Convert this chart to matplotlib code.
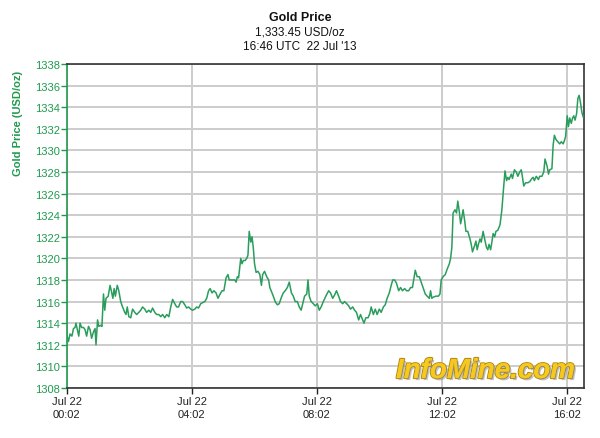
import matplotlib
matplotlib.use("Agg")
import matplotlib.pyplot as plt
import matplotlib.patheffects as pe

# hours after Jul 22 00:02 UTC
hours = [
    0.00, 0.06, 0.11, 0.17, 0.22, 0.27, 0.30, 0.35, 0.39, 0.43, 0.48, 0.54, 0.59, 0.64,
    0.70, 0.75, 0.80, 0.86, 0.91, 0.94, 0.99, 1.03, 1.09, 1.13, 1.18, 1.22, 1.26, 1.33,
    1.39, 1.43, 1.48, 1.52, 1.56, 1.62, 1.67, 1.73, 1.79, 1.86, 1.90, 1.94, 1.99, 2.05,
    2.11, 2.18, 2.24, 2.31, 2.37, 2.43, 2.50, 2.56, 2.63, 2.69, 2.75, 2.82, 2.88, 2.95,
    3.01, 3.07, 3.14, 3.20, 3.27, 3.33, 3.39, 3.46, 3.52, 3.58, 3.65, 3.71, 3.78, 3.84,
    3.90, 3.97, 4.03, 4.10, 4.16, 4.22, 4.29, 4.35, 4.42, 4.48, 4.54, 4.59, 4.65, 4.71,
    4.78, 4.84, 4.91, 4.97, 5.03, 5.10, 5.16, 5.20, 5.29, 5.38, 5.42, 5.46, 5.50,
    5.57, 5.61, 5.65, 5.71, 5.76, 5.80, 5.84, 5.89, 5.93, 5.97, 6.01, 6.06, 6.12, 6.18,
    6.23, 6.27, 6.33, 6.40, 6.46, 6.50, 6.57, 6.61, 6.67, 6.74, 6.80, 6.87, 6.93, 6.99,
    7.06, 7.12, 7.19, 7.25, 7.31, 7.38, 7.44, 7.50, 7.55, 7.61, 7.68, 7.72, 7.76, 7.82,
    7.89, 7.95, 8.02, 8.08, 8.14, 8.21, 8.29, 8.38, 8.44, 8.51, 8.57, 8.63, 8.70, 8.76,
    8.83, 8.89, 8.96, 9.02, 9.08, 9.15, 9.21, 9.27, 9.34, 9.40, 9.47, 9.51, 9.57, 9.64,
    9.70, 9.74, 9.81, 9.87, 9.93, 10.00, 10.06, 10.13, 10.19, 10.25, 10.32, 10.38, 10.43,
    10.49, 10.55, 10.62, 10.68, 10.74, 10.81, 10.87, 10.94, 11.00, 11.06,
    11.15, 11.21, 11.28, 11.34, 11.40, 11.47, 11.53, 11.60, 11.64, 11.68, 11.72, 11.81,
    11.89, 11.94, 11.98, 12.04, 12.11, 12.17, 12.24, 12.28, 12.32, 12.36, 12.42, 12.47,
    12.51, 12.56, 12.60, 12.64, 12.68, 12.73, 12.77, 12.83, 12.90, 12.94, 12.98, 13.05,
    13.09, 13.13, 13.17, 13.22, 13.26, 13.32, 13.39, 13.43, 13.47, 13.51, 13.56, 13.60,
    13.64, 13.69, 13.73, 13.79, 13.86, 13.92, 13.96, 14.02, 14.07, 14.11, 14.15, 14.22,
    14.26, 14.32, 14.38, 14.43, 14.49, 14.54, 14.58, 14.62, 14.68, 14.75, 14.81, 14.88,
    14.92, 14.96, 15.02, 15.09, 15.13, 15.20, 15.26, 15.30, 15.37, 15.41, 15.45, 15.52,
    15.56, 15.60, 15.65, 15.71, 15.77, 15.82, 15.88, 15.92, 15.96, 16.01, 16.05, 16.09,
    16.14, 16.18, 16.22, 16.26, 16.31, 16.35, 16.39, 16.43, 16.48, 16.52,
]

prices = [
    1313.0, 1312.3, 1313.0, 1312.8, 1313.5, 1313.6, 1314.0, 1313.3, 1312.8, 1314.0, 1313.6, 1313.6, 1313.4, 1312.8,
    1313.7, 1313.4, 1312.6, 1313.2, 1313.5, 1312.0, 1314.3, 1313.7, 1313.8, 1313.7, 1316.7, 1315.2, 1316.3, 1316.5,
    1317.5, 1317.0, 1316.3, 1317.2, 1316.5, 1317.5, 1317.0, 1316.0, 1315.5, 1315.0, 1314.8, 1315.5, 1314.6, 1314.5,
    1315.3, 1315.0, 1314.8, 1315.0, 1315.2, 1315.5, 1315.3, 1315.0, 1315.2, 1315.0, 1315.4, 1315.0, 1314.8, 1314.8,
    1314.6, 1314.8, 1314.5, 1314.8, 1314.6, 1315.5, 1316.2, 1315.8, 1315.5, 1315.5, 1316.0, 1316.0, 1315.7, 1315.4,
    1315.5, 1315.3, 1315.2, 1315.3, 1315.5, 1315.4, 1315.8, 1315.9, 1316.0, 1316.3, 1317.0, 1317.2, 1316.8, 1317.0,
    1316.8, 1316.3, 1316.7, 1317.0, 1317.0, 1318.2, 1318.5, 1318.0, 1318.0, 1318.0, 1317.8, 1318.3, 1318.2,
    1320.0, 1319.5, 1319.8, 1319.8, 1320.0, 1320.3, 1322.5, 1321.5, 1322.0, 1321.0, 1319.5, 1318.7, 1318.8, 1318.5,
    1317.5, 1318.5, 1318.8, 1318.3, 1318.0, 1317.3, 1316.8, 1316.5, 1316.0, 1315.7, 1315.8, 1316.4, 1316.8, 1317.0,
    1317.3, 1317.8, 1316.8, 1316.5, 1316.0, 1316.0, 1315.5, 1315.2, 1315.8, 1316.5, 1316.7, 1318.0, 1316.5, 1316.0,
    1315.8, 1315.6, 1315.8, 1315.2, 1315.5, 1316.0, 1316.5, 1317.0, 1316.8, 1316.3, 1316.6, 1317.0, 1316.5, 1316.0,
    1315.8, 1316.0, 1315.8, 1315.6, 1315.3, 1315.5, 1315.2, 1315.0, 1314.3, 1314.8, 1314.3, 1314.0, 1314.5, 1314.5,
    1314.9, 1315.5, 1314.8, 1315.3, 1314.8, 1315.3, 1315.0, 1315.5, 1315.7, 1316.3, 1316.8, 1317.5, 1318.0,
    1318.0, 1317.7, 1317.0, 1317.3, 1317.0, 1317.2, 1317.0, 1317.0, 1317.3, 1317.3,
    1318.9, 1318.3, 1318.3, 1317.8, 1317.3, 1316.7, 1316.5, 1316.3, 1317.0, 1316.3, 1316.4, 1316.5,
    1316.5, 1316.7, 1318.0, 1318.3, 1318.5, 1319.0, 1319.5, 1320.0, 1321.0, 1324.2, 1324.5, 1324.2,
    1325.3, 1324.3, 1323.2, 1323.8, 1324.5, 1323.5, 1322.5, 1322.5, 1321.8, 1321.3, 1320.6, 1321.2,
    1321.6, 1320.8, 1321.3, 1321.8, 1321.5, 1322.5, 1321.5, 1321.0, 1320.8, 1321.3, 1320.8, 1321.5,
    1322.3, 1322.0, 1322.5, 1322.6, 1323.1, 1324.5, 1326.0, 1328.1, 1327.2, 1327.5, 1327.3, 1327.8,
    1327.4, 1328.2, 1328.0, 1327.6, 1328.0, 1328.2, 1327.5, 1326.7, 1327.0, 1327.0, 1327.1, 1327.4,
    1327.5, 1327.2, 1327.6, 1327.3, 1327.6, 1327.6, 1328.0, 1329.2, 1328.5, 1327.8, 1328.2, 1328.3,
    1330.5, 1331.4, 1331.0, 1330.8, 1330.6, 1330.8, 1330.6, 1330.9, 1331.3, 1333.2, 1332.2, 1333.0,
    1332.5, 1333.0, 1333.2, 1332.8, 1333.4, 1334.8, 1335.1, 1334.5, 1333.5, 1333.1,
]

tick_hours = [0, 4, 8, 12, 16]
tick_labels = ["Jul 22\n00:02", "Jul 22\n04:02", "Jul 22\n08:02", "Jul 22\n12:02", "Jul 22\n16:02"]
y_ticks = list(range(1308, 1339, 2))

green = '#1e9a4e'
plt.rcParams['font.family'] = ['Liberation Sans', 'DejaVu Sans']

fig = plt.figure(figsize=(6.0, 4.39), dpi=100)
ax = fig.add_axes([0.111, 0.114, 0.862, 0.738])

ax.plot(hours, prices, color='#2a9d5c', linewidth=1.1, zorder=3)

ax.set_xlim(0, 16.54)
ax.set_ylim(1308, 1338)
ax.set_xticks(tick_hours)
ax.set_xticklabels(tick_labels, fontsize=8, color='#222222', linespacing=1.3)
ax.set_yticks(y_ticks)
ax.set_yticklabels([str(v) for v in y_ticks], fontsize=8, color=green)

ax.grid(True, color='#cccccc', linewidth=1.4)
ax.set_axisbelow(True)

ax.spines['left'].set_color(green)
ax.spines['left'].set_linewidth(1.2)
for s in ['top', 'right', 'bottom']:
    ax.spines[s].set_color('#333333')
    ax.spines[s].set_linewidth(1.2)
ax.tick_params(axis='y', colors=green, length=4, width=1, pad=1)
ax.tick_params(axis='x', colors='#222222', length=4, width=1, pad=2)

ax.set_ylabel("Gold Price (USD/oz)", fontsize=8, fontweight='bold', color=green)
ax.yaxis.set_label_coords(-0.085, 0.82)

fig.text(0.5, 0.958, "Gold Price", ha='center', va='center', fontsize=9, fontweight='bold', color='#111111')
fig.text(0.5, 0.925, "1,333.45 USD/oz", ha='center', va='center', fontsize=8.5, color='#111111')
fig.text(0.5, 0.892, "16:46 UTC  22 Jul '13", ha='center', va='center', fontsize=8.5, color='#111111')

# watermark
ax.text(0.983, 0.012, "InfoMine.com", transform=ax.transAxes, ha='right', va='bottom',
        fontsize=20, fontweight='bold', fontstyle='italic', color='#f7c81e', zorder=4,
        path_effects=[pe.withStroke(linewidth=1.5, foreground='#b08a10'),
                      pe.SimplePatchShadow(offset=(1.5, -1.5), shadow_rgbFace='#888888', alpha=0.5),
                      pe.Normal()])

fig.savefig("out.png", dpi=100)
